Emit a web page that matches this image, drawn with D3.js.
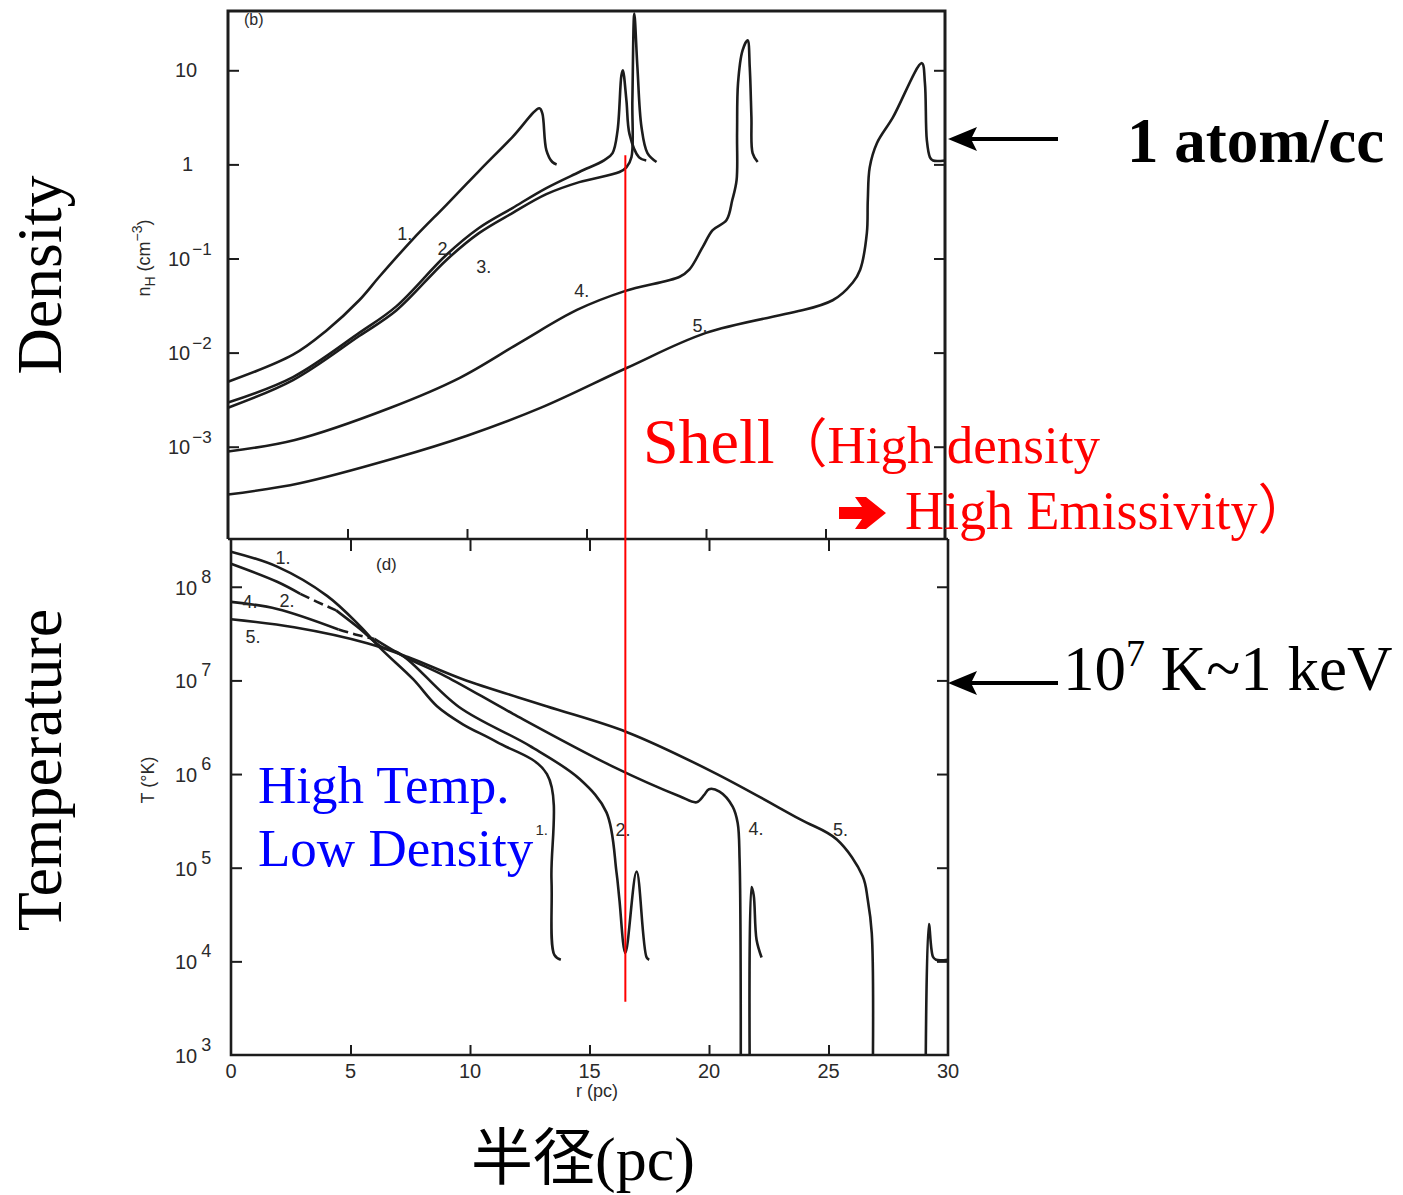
<!DOCTYPE html>
<html><head><meta charset="utf-8">
<script src="https://cdn.jsdelivr.net/npm/d3@7"></script>
<style>body{margin:0;background:#fff;} svg{display:block;}</style>
</head><body>
<script>
// ---------- DATA ----------
const rTickValues = [0, 5, 10, 15, 20, 25, 30];
const rInnerTicks = [5, 10, 15, 20, 25];
const densityTickValues = [1e-3, 1e-2, 1e-1, 1, 10];
const densityTickBase = ["10", "10", "10", "1", "10"];
const densityTickExp = ["−3", "−2", "−1", "", ""];
const tempTickValues = [1e3, 1e4, 1e5, 1e6, 1e7, 1e8];
const tempTickExp = ["3", "4", "5", "6", "7", "8"];

// density n_H (cm^-3) vs r (pc)
const density1 = [[0,0.0049],[2.72,0.0095],[4.1,0.017],[5.49,0.036],[6.33,0.064],[7.71,0.158],[9.13,0.37],[10.5,0.85],[11.9,1.95],[13.03,3.95],[13.15,3.5],[13.32,1.42],[13.57,1.06],[13.75,1.0]];
const density2 = [[0,0.00295],[2.72,0.0055],[5.49,0.0162],[7.04,0.031],[9.13,0.109],[10.5,0.211],[11.9,0.344],[13.32,0.56],[14.7,0.83],[15.75,1.11],[16.09,1.32],[16.3,2.3],[16.46,8.8],[16.52,10],[16.67,4.8],[16.8,2.1],[17.2,1.19],[17.5,1.1]];
const density3 = [[0,0.0026],[2.72,0.0051],[5.49,0.015],[7.04,0.028],[9.13,0.096],[10.5,0.186],[11.9,0.304],[13.32,0.483],[14.7,0.648],[16.38,0.83],[16.67,0.93],[16.88,1.19],[16.92,4.8],[17.0,40],[17.13,10.8],[17.3,2.5],[17.55,1.32],[17.93,1.06]];
const density4 = [[0,0.00089],[2.8,0.00118],[6.8,0.0026],[9.7,0.0054],[12.2,0.0127],[14.6,0.0284],[16.6,0.045],[18.9,0.064],[19.3,0.076],[19.86,0.132],[20.28,0.2],[20.86,0.256],[21.1,0.418],[21.28,0.68],[21.3,2.15],[21.34,7.3],[21.53,16.3],[21.74,20.8],[21.83,10.8],[21.9,3.2],[21.95,1.32],[22.16,1.06]];
const density5 = [[0,0.00031],[3.0,0.00041],[7.0,0.00076],[10.0,0.00131],[13.1,0.0026],[16.7,0.0069],[20.0,0.0162],[25.3,0.036],[26.15,0.056],[26.45,0.076],[26.73,0.186],[26.77,0.418],[26.85,0.93],[27.15,1.68],[27.82,3.16],[29.03,11.9],[29.16,7.3],[29.24,1.81],[29.37,1.19],[29.5,1.1],[30,1.1]];

// temperature T (K) vs r (pc); null = gap
const temp1 = [[0,2.37e8],[1.93,1.64e8],[4.02,8.0e7],[5.4,3.8e7],[6.28,2.17e7],[7.62,1.03e7],[8.62,5.3e6],[9.7,3.4e6],[11.13,2.19e6],[13.22,1.0e6],[13.41,7.4e4],[13.53,1.17e4],[13.8,1.04e4]];
const temp2 = [[0,1.76e8],[1.93,1.13e8],[2.9,8.4e7],[3.6,6.9e7],[4.4,5.6e7],[5.4,3.55e7],[6.24,2.33e7],[7.11,1.9e7],[9.54,5.2e6],[12.5,2.0e6],[14.6,8.8e5],[15.71,3.9e5],[16.13,8.9e4],[16.25,4.6e4],[16.5,1.23e4],[16.97,9.1e4],[17.39,1.1e4],[17.5,1.04e4]];
const temp4 = [[0,6.9e7],[1.93,5.8e7],[4.5,3.5e7],[5.2,3.1e7],[6.0,2.77e7],[7.2,1.82e7],[9.0,1.1e7],[11.8,4.4e6],[15.96,1.21e6],[18.77,5.8e5],[19.48,5.0e5],[19.8,6.0e5],[20.0,6.9e5],[20.44,6.5e5],[20.99,4.5e5],[21.2,3.0e5],[21.28,1.22e5],[21.33,1e3],[21.5,null],[21.7,1e3],[21.78,6.2e4],[21.87,5.1e4],[21.99,1.7e4],[22.2,1.1e4]];
const temp5 = [[0,4.5e7],[2.64,3.7e7],[5.7,2.5e7],[7.4,1.78e7],[9.7,1.03e7],[13.2,5.3e6],[16.57,2.8e6],[20.17,1.05e6],[23.8,3.3e5],[25.35,2.0e5],[26.43,8.1e4],[26.64,4.6e4],[26.81,2.0e4],[26.86,1e3],[28,null],[29.07,1e3],[29.2,2.5e4],[29.37,1.12e4],[29.5,1.04e4],[30,1.04e4]];
const temp2DashedRange = [2.9, 4.4];
const temp4DashedRange = [4.5, 6.0];

const densitySeries = [density1, density2, density3, density4, density5];
const tempSeries = [[temp1, null], [temp2, temp2DashedRange], [temp4, temp4DashedRange], [temp5, null]];

// curve labels [text, r, value, fontSize]
const densityLabels = [["1.",7.4,0.187,18],["2.",9.08,0.129,18],["3.",10.7,0.083,18],["4.",14.8,0.046,18],["5.",19.75,0.0197,18]];
const tempLabels = [["1.",2.18,2.1e8,18],["4.",0.8,7.1e7,18],["2.",2.34,7.3e7,18],["5.",0.92,3.0e7,18],["1.",13.0,2.63e5,15],["2.",16.4,2.6e5,18],["4.",21.97,2.63e5,18],["5.",25.5,2.6e5,18]];

const shellRadius = 16.5;
const shellTopDensity = 1.25;
const shellBottomTemp = 3700;

// ---------- SCALES ----------
const W = 1403, H = 1195;
const xTop = d3.scaleLinear().domain([0, 30]).range([228, 945]);
const yTop = d3.scaleLog().domain([Math.pow(10, -3.97), Math.pow(10, 1.63)]).range([538, 11]);
const xBot = d3.scaleLinear().domain([0, 30]).range([231, 948]);
const yBot = d3.scaleLog().domain([1e3, Math.pow(10, 8.51)]).range([1055, 539]);

const svg = d3.select("body").append("svg").attr("width", W).attr("height", H);
const ink = "#1c1c1c";
const tickFont = "'Liberation Sans', 'DejaVu Sans', sans-serif";
const serif = "'Liberation Serif', 'Noto Sans CJK JP', serif";

// ---------- FRAMES ----------
const frame = svg.append("g").attr("stroke", ink).attr("stroke-width", 2.6).attr("fill", "none");
frame.append("path").attr("d", `M${xTop(0)},${yTop.range()[0]+1} V${yTop.range()[1]} H${xTop(30)} V${yTop.range()[0]}`).attr("stroke-width", 3);
frame.append("path").attr("d", `M${xTop(0)},${yBot.range()[1]} H${xBot(30)}`);
frame.append("path").attr("d", `M${xBot(0)},${yBot.range()[1]} V${yBot.range()[0]} H${xBot(30)} V${yBot.range()[1]}`);

function clean(g) { g.select(".domain").remove(); g.selectAll(".tick line").attr("stroke", ink).attr("stroke-width", 2); }

// y ticks (inward) left and right
svg.append("g").attr("transform", `translate(${xTop(0)},0)`).call(d3.axisRight(yTop).tickValues(densityTickValues).tickSize(11).tickFormat("")).call(clean);
svg.append("g").attr("transform", `translate(${xTop(30)},0)`).call(d3.axisLeft(yTop).tickValues(densityTickValues).tickSize(11).tickFormat("")).call(clean);
svg.append("g").attr("transform", `translate(${xBot(0)},0)`).call(d3.axisRight(yBot).tickValues(tempTickValues.slice(1)).tickSize(11).tickFormat("")).call(clean);
svg.append("g").attr("transform", `translate(${xBot(30)},0)`).call(d3.axisLeft(yBot).tickValues(tempTickValues.slice(1)).tickSize(11).tickFormat("")).call(clean);
// x ticks
svg.append("g").attr("transform", `translate(0,${yBot.range()[1]})`).call(d3.axisTop(xTop).tickValues(rInnerTicks).tickSize(10).tickFormat("")).call(clean);
svg.append("g").attr("transform", `translate(0,${yBot.range()[1]})`).call(d3.axisBottom(xBot).tickValues(rInnerTicks).tickSize(12).tickFormat("")).call(clean);
svg.append("g").attr("transform", `translate(0,${yBot.range()[0]})`).call(d3.axisTop(xBot).tickValues(rInnerTicks).tickSize(10).tickFormat("")).call(clean);

// ---------- TICK LABELS ----------
const dLab = svg.append("g").attr("font-family", tickFont).attr("font-size", 20).attr("fill", "#2a2a2a");
densityTickValues.forEach((v, i) => {
  const hasExp = densityTickExp[i] !== "";
  const x0 = xTop(0) - (hasExp ? 60 : (densityTickBase[i] === "1" ? 46 : 53));
  const t = dLab.append("text").attr("x", x0).attr("y", yTop(v) + 7);
  t.append("tspan").text(densityTickBase[i]);
  if (hasExp) t.append("tspan").attr("dx", 2).attr("dy", -11).attr("font-size", 17).text(densityTickExp[i]);
});
tempTickValues.forEach((v, i) => {
  const t = dLab.append("text").attr("x", xBot(0) - 56).attr("y", yBot(v) + 8);
  t.append("tspan").text("10");
  t.append("tspan").attr("dx", 4).attr("dy", -12).attr("font-size", 18).text(tempTickExp[i]);
});
rTickValues.forEach(v => {
  dLab.append("text").attr("x", xBot(v)).attr("y", 1078).attr("text-anchor", "middle").text(v);
});
// axis titles
dLab.append("text").attr("x", 597).attr("y", 1097).attr("text-anchor", "middle").attr("font-size", 18).text("r (pc)");
const nT = dLab.append("text").attr("transform", "translate(150,258) rotate(-90)").attr("text-anchor", "middle").attr("font-size", 18);
nT.append("tspan").text("n");
nT.append("tspan").attr("dy", 5).attr("font-size", 14).text("H");
nT.append("tspan").attr("dy", -5).text(" (cm");
nT.append("tspan").attr("dy", -8).attr("font-size", 14).text("−3");
nT.append("tspan").attr("dy", 8).text(")");
dLab.append("text").attr("transform", "translate(154,780) rotate(-90)").attr("text-anchor", "middle").attr("font-size", 18).text("T (°K)");
dLab.append("text").attr("x", 244).attr("y", 25).attr("font-size", 16).text("(b)");
dLab.append("text").attr("x", 376).attr("y", 570).attr("font-size", 17).text("(d)");

// ---------- CURVES ----------
const curve = d3.curveCatmullRom.alpha(0.5);
const lineTop = d3.line().x(d => xTop(d[0])).y(d => yTop(d[1])).curve(curve);
const curves = svg.append("g").attr("fill", "none").attr("stroke", ink).attr("stroke-width", 2.6).attr("stroke-linejoin", "round");
densitySeries.forEach(s => curves.append("path").attr("d", lineTop(s)));

tempSeries.forEach(([s, dash]) => {
  const solid = d3.line().defined(d => d[1] != null && !(dash && d[0] > dash[0] && d[0] < dash[1]))
    .x(d => xBot(d[0])).y(d => yBot(d[1])).curve(curve);
  curves.append("path").attr("d", solid(s));
  if (dash) {
    const seg = s.filter(d => d[0] >= dash[0] && d[0] <= dash[1]);
    const dl = d3.line().x(d => xBot(d[0])).y(d => yBot(d[1])).curve(curve);
    curves.append("path").attr("d", dl(seg)).attr("stroke-dasharray", "10,5");
  }
});

// curve labels
const cl = svg.append("g").attr("font-family", tickFont).attr("fill", "#2a2a2a").attr("text-anchor", "middle");
densityLabels.forEach(([t, r, v, fs]) => cl.append("text").attr("font-size", fs).attr("x", xTop(r)).attr("y", yTop(v) + 7).text(t));
tempLabels.forEach(([t, r, v, fs]) => cl.append("text").attr("font-size", fs).attr("x", xBot(r)).attr("y", yBot(v) + 7).text(t));

// ---------- SHELL LINE ----------
svg.append("line").attr("x1", xBot(shellRadius)).attr("x2", xBot(shellRadius))
  .attr("y1", yTop(shellTopDensity)).attr("y2", yBot(shellBottomTemp))
  .attr("stroke", "#ff0000").attr("stroke-width", 2);

// ---------- ANNOTATIONS ----------
function arrow(y) {
  const g = svg.append("g");
  g.append("line").attr("x1", 1058).attr("x2", 962).attr("y1", y).attr("y2", y).attr("stroke", "#000").attr("stroke-width", 3.8);
  g.append("path").attr("d", `M948,${y} L977,${y-12} L971,${y} L977,${y+12} Z`).attr("fill", "#000");
}
arrow(139);
arrow(683);

svg.append("text").attr("x", 1127).attr("y", 162).attr("font-family", serif).attr("font-weight", "bold").attr("font-size", 63).attr("fill", "#000").text("1 atom/cc");
const kev = svg.append("text").attr("x", 1063).attr("y", 690).attr("font-family", serif).attr("font-size", 63).attr("fill", "#000");
kev.append("tspan").text("10");
kev.append("tspan").attr("dy", -24).attr("font-size", 38).text("7");
kev.append("tspan").attr("dy", 24).text(" K~1 keV");

const sh = svg.append("text").attr("x", 643).attr("y", 463).attr("font-family", serif).attr("fill", "#ff0000");
sh.append("tspan").attr("font-size", 64).text("Shell");
sh.append("tspan").attr("font-size", 53).text("（High density");
// heavy arrow glyph
svg.append("path").attr("d", "M839,507 H862 L855,497 H866 L886,513 L866,529 H855 L862,519 H839 Z").attr("fill", "#ff0000");
svg.append("text").attr("x", 905).attr("y", 529).attr("font-family", serif).attr("font-size", 54).attr("fill", "#ff0000").text("High Emissivity）");

const blue = svg.append("g").attr("font-family", serif).attr("font-size", 53).attr("fill", "#0000ff");
blue.append("text").attr("x", 258).attr("y", 803).text("High Temp.");
blue.append("text").attr("x", 258).attr("y", 866).text("Low Density");

svg.append("text").attr("transform", "translate(61,275) rotate(-90)").attr("text-anchor", "middle").attr("font-family", serif).attr("font-size", 64).attr("fill", "#000").text("Density");
svg.append("text").attr("transform", "translate(61,770) rotate(-90)").attr("text-anchor", "middle").attr("font-family", serif).attr("font-size", 64).attr("fill", "#000").text("Temperature");
svg.append("text").attr("x", 583).attr("y", 1180).attr("text-anchor", "middle").attr("font-family", serif).attr("font-size", 62).attr("fill", "#000").text("半径(pc)");
</script>
</body></html>
